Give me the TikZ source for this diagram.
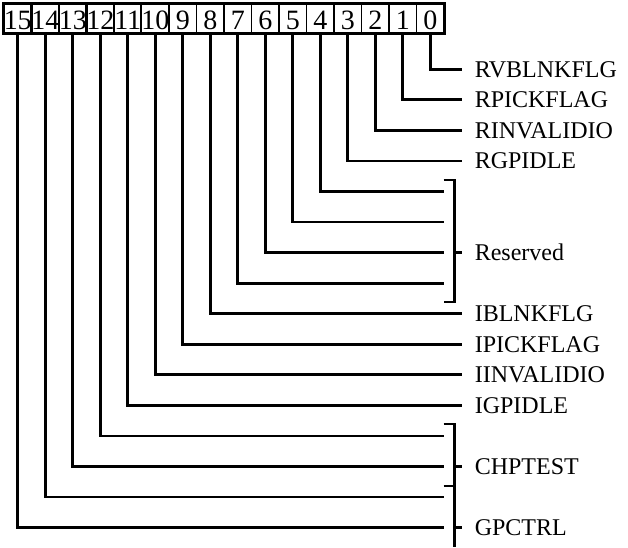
\documentclass[tikz,border=0pt]{standalone}
\usepackage{fontspec}
\setmainfont{Liberation Serif}
\begin{document}
\begin{tikzpicture}[x=0.75pt,y=-0.75pt,
  bitbox/.style={draw,line width=1.4pt,minimum width=20.6pt,minimum height=21.75pt,inner sep=0pt,
    font=\fontsize{21}{21}\selectfont,text height=14pt,text depth=0pt},
  lab/.style={anchor=base west,inner sep=0pt,font=\fontsize{18}{18}\selectfont},
  conn/.style={line width=2.1pt,line join=miter},
  brk/.style={line width=2.1pt,line join=miter}]
\useasboundingbox (0,0) rectangle (628,547);
% bit boxes
\foreach \b in {0,...,15} {
  \pgfmathsetmacro\bx{4+(15-\b)*27.5+13.75}
  \node[bitbox] (b\b) at (\bx,18.5) {\raisebox{-1.2pt}{\b}};
}
\draw[line width=1.9pt] (b15.north west) rectangle (b0.south east);
% labelled bits
\foreach \b/\t in {0/RVBLNKFLG,1/RPICKFLAG,2/RINVALIDIO,3/RGPIDLE,8/IBLNKFLG,9/IPICKFLAG,10/IINVALIDIO,11/IGPIDLE} {
  \pgfmathsetmacro\by{69.3+30.55*\b}
  \coordinate (e\b) at (461.7,\by);
  \node[lab] (l\b) at (474.5,{\by+7.85}) {\t};
  \draw[conn] (b\b.south) |- (e\b);
}
% bracketed bits
\foreach \b in {4,5,6,7,12,13,14,15} {
  \pgfmathsetmacro\by{69.3+30.55*\b}
  \coordinate (e\b) at (443.5,\by);
  \draw[conn] (b\b.south) |- (e\b);
}
% brackets
\coordinate (rt) at (443.5,180);
\coordinate (rb) at (443.5,302);
\draw[brk] (rt) -- (454.5,180) -- (454.5,302) -- (rb);
\coordinate (rm) at (454.5,252.6);
\coordinate (rme) at (461.7,252.6);
\draw[brk] (rm) -- (rme);
\node[lab] (lres) at (474.5,260.45) {Reserved};
\coordinate (ct) at (443.5,424);
\coordinate (cb) at (443.5,486);
\coordinate (gb) at (454.5,547);
\draw[brk] (ct) -- (454.5,424) -- (gb);
\draw[brk] (cb) -- (454.5,486);
\coordinate (cm) at (454.5,466.45);
\coordinate (cme) at (461.7,466.45);
\draw[brk] (cm) -- (cme);
\node[lab] (lchp) at (474.5,474.3) {CHPTEST};
\coordinate (gm) at (454.5,527.55);
\coordinate (gme) at (461.7,527.55);
\draw[brk] (gm) -- (gme);
\node[lab] (lgpc) at (474.5,535.4) {GPCTRL};
\end{tikzpicture}
\end{document}
